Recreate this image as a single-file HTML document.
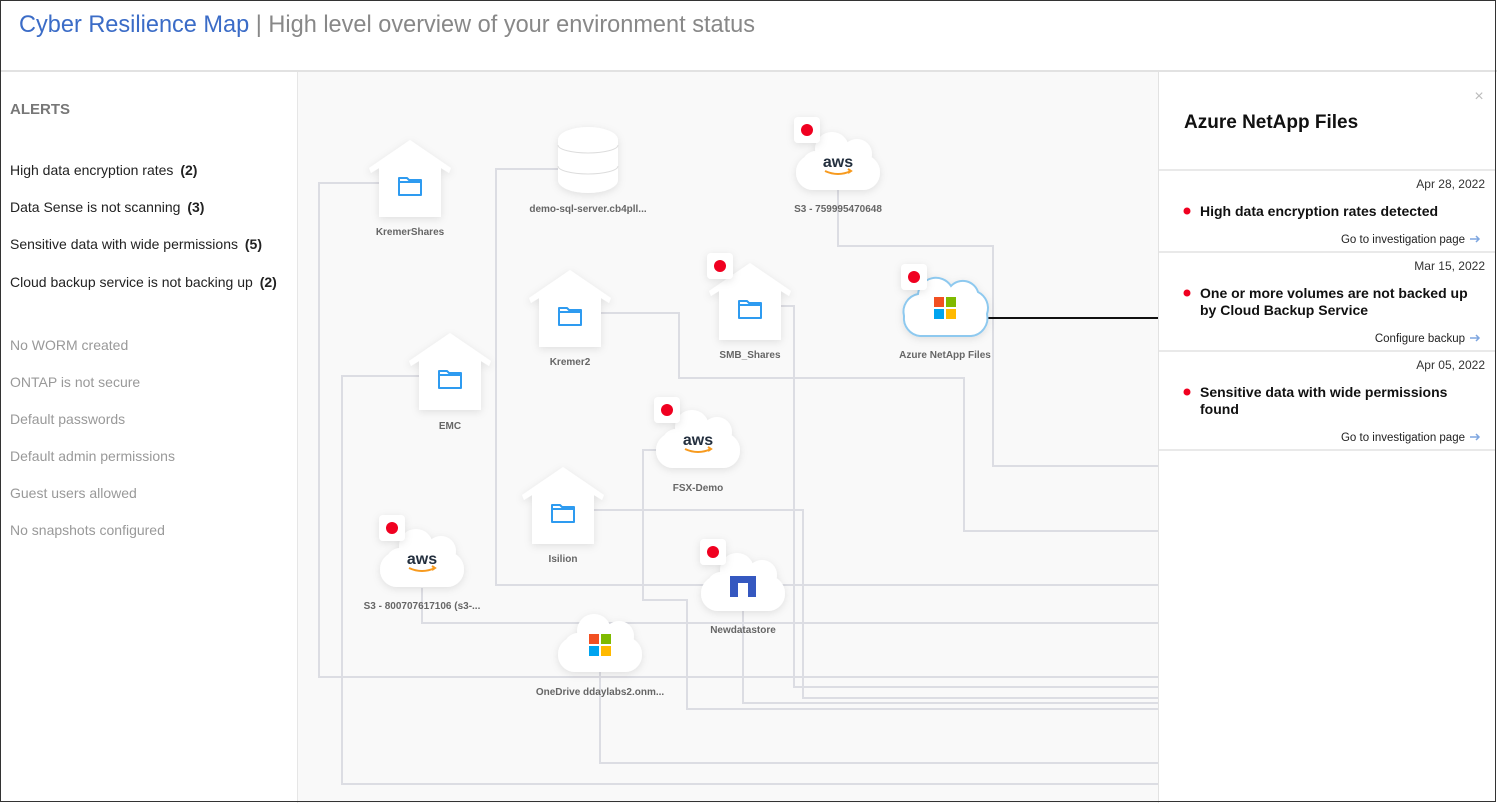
<!DOCTYPE html>
<html><head><meta charset="utf-8"><style>
html,body{margin:0;padding:0;background:#fff;}
svg{display:block;font-family:"Liberation Sans",sans-serif;}
</style></head><body>
<svg width="1497" height="803" viewBox="0 0 1497 803" xmlns="http://www.w3.org/2000/svg">
<defs>
<filter id="sh" x="-40%" y="-40%" width="180%" height="180%"><feDropShadow dx="0" dy="2" stdDeviation="4" flood-color="#000" flood-opacity="0.10"/></filter>
<g id="cloud"><circle cx="-22" cy="4" r="14"/><circle cx="-6" cy="-12" r="17"/><circle cx="19" cy="-7" r="15"/><rect x="-42" y="-6" width="84" height="35" rx="17"/></g>
<g id="house"><polygon points="0,0 41,28 39,33 31,28 31,77 -31,77 -31,28 -39,33 -41,28"/></g>
<g id="folder"><path d="M-11,-8 h8 l2,2 h12 v15 h-22 z M-11,-4 h22" fill="none" stroke="#2e9bf0" stroke-width="2" stroke-linejoin="round"/></g>
<g id="badge"><rect x="-13" y="-13" width="26" height="26" rx="4" fill="#fff" filter="url(#sh)"/><circle r="6" fill="#f00020"/></g>
<g id="aws"><text x="0" y="3" text-anchor="middle" font-size="16" fill="#232f3e" font-weight="bold">aws</text><path d="M-13,7 q13,6 26,0 M10,5 l3,2 -3,2" fill="none" stroke="#f79a1e" stroke-width="2"/></g>
<g id="ms"><rect x="-11" y="-11" width="10" height="10" fill="#f25022"/><rect x="1" y="-11" width="10" height="10" fill="#7fba00"/><rect x="-11" y="1" width="10" height="10" fill="#00a4ef"/><rect x="1" y="1" width="10" height="10" fill="#ffb900"/></g>
</defs>
<rect x="0" y="0" width="1497" height="803" fill="#fff"/>
<text x="19" y="32" font-size="24" fill="#3b6cc7" textLength="736" lengthAdjust="spacingAndGlyphs">Cyber Resilience Map <tspan fill="#888">| High level overview of your environment status</tspan></text>
<line x1="0" y1="71" x2="1497" y2="71" stroke="#e2e2e2" stroke-width="2"/>
<rect x="298" y="72" width="860" height="731" fill="#f9f9f9"/>
<line x1="297.5" y1="72" x2="297.5" y2="803" stroke="#e6e6e6"/>
<text x="10" y="114" font-size="15" font-weight="bold" fill="#777">ALERTS</text>
<g font-size="14" fill="#222">
<text x="10" y="175">High data encryption rates <tspan font-weight="bold" dx="3">(2)</tspan></text>
<text x="10" y="212">Data Sense is not scanning <tspan font-weight="bold" dx="3">(3)</tspan></text>
<text x="10" y="249">Sensitive data with wide permissions <tspan font-weight="bold" dx="3">(5)</tspan></text>
<text x="10" y="287">Cloud backup service is not backing up <tspan font-weight="bold" dx="3">(2)</tspan></text>
</g>
<g font-size="14" fill="#999">
<text x="10" y="350">No WORM created</text>
<text x="10" y="387">ONTAP is not secure</text>
<text x="10" y="424">Default passwords</text>
<text x="10" y="461">Default admin permissions</text>
<text x="10" y="498">Guest users allowed</text>
<text x="10" y="535">No snapshots configured</text>
</g>
<g fill="none" stroke="#dcdde3" stroke-width="2">
<polyline points="380,183 319,183 319,677 1158,677"/>
<polyline points="560,169 496,169 496,585 1158,585"/>
<polyline points="838,190 838,246 993,246 993,466 1158,466"/>
<polyline points="600,313 679,313 679,378 964,378 964,531 1158,531"/>
<polyline points="781,306 794,306 794,687 1158,687"/>
<polyline points="420,376 342,376 342,784 1158,784"/>
<polyline points="660,450 643,450 643,600 687,600 687,709 1158,709"/>
<polyline points="594,510 803,510 803,698 1158,698"/>
<polyline points="743,610 743,703 1158,703"/>
<polyline points="422,588 422,623 1158,623"/>
<polyline points="600,672 600,763 1158,763"/>
</g>
<line x1="988" y1="318" x2="1158" y2="318" stroke="#111" stroke-width="2"/>
<g fill="#fff" filter="url(#sh)">
<use href="#house" x="410" y="140"/><use href="#house" x="570" y="270"/><use href="#house" x="450" y="333"/><use href="#house" x="750" y="263"/><use href="#house" x="563" y="467"/>
</g>
<use href="#folder" x="410" y="186"/><use href="#folder" x="570" y="316"/><use href="#folder" x="450" y="379"/><use href="#folder" x="750" y="309"/><use href="#folder" x="563" y="513"/>
<g filter="url(#sh)"><path d="M558,140 a30,13 0 0 1 60,0 v40 a30,13 0 0 1 -60,0 z" fill="#fff"/></g>
<path d="M558,145 a30,8 0 0 0 60,0 M558,166 a30,8 0 0 0 60,0" fill="none" stroke="#ddd"/>
<g fill="#fff" filter="url(#sh)">
<use href="#cloud" x="838" y="161"/><use href="#cloud" x="698" y="439"/><use href="#cloud" x="422" y="558"/><use href="#cloud" x="743" y="582"/><use href="#cloud" x="600" y="643"/>
</g>
<g fill="#fff" stroke="#8ec9ef" stroke-width="2" filter="url(#sh)"><path d="M920,336 a18,18 0 0 1 -16,-20 a18,18 0 0 1 14,-22 a18,18 0 0 1 33,-8 a16,16 0 0 1 27,6 a18,18 0 0 1 9,22 a18,18 0 0 1 -16,22 z"/></g>
<use href="#aws" x="838" y="164"/><use href="#aws" x="698" y="442"/><use href="#aws" x="422" y="561"/>
<use href="#ms" x="945" y="308"/><use href="#ms" x="600" y="645"/>
<path d="M730,597 v-21 h26 v21 h-8 v-14 h-10 v14 z" fill="#3558c0"/>
<use href="#badge" x="807" y="130"/><use href="#badge" x="914" y="277"/><use href="#badge" x="667" y="410"/><use href="#badge" x="392" y="528"/><use href="#badge" x="713" y="552"/><use href="#badge" x="720" y="266"/>
<g font-size="10" font-weight="bold" fill="#666" text-anchor="middle">
<text x="410" y="235">KremerShares</text>
<text x="588" y="212">demo-sql-server.cb4pll...</text>
<text x="838" y="212">S3 - 759995470648</text>
<text x="570" y="365">Kremer2</text>
<text x="750" y="358">SMB_Shares</text>
<text x="945" y="358">Azure NetApp Files</text>
<text x="450" y="429">EMC</text>
<text x="698" y="491">FSX-Demo</text>
<text x="563" y="562">Isilion</text>
<text x="422" y="609">S3 - 800707617106 (s3-...</text>
<text x="743" y="633">Newdatastore</text>
<text x="600" y="695">OneDrive ddaylabs2.onm...</text>
</g>
<rect x="1158" y="72" width="337" height="731" fill="#fff"/>
<line x1="1158.5" y1="72" x2="1158.5" y2="803" stroke="#e2e2e2"/>
<text x="1479" y="101" font-size="16" fill="#bbb" text-anchor="middle">×</text>
<text x="1184" y="128" font-size="19" font-weight="bold" fill="#111">Azure NetApp Files</text>
<g stroke="#e2e2e2" stroke-width="1.5"><line x1="1158" y1="170" x2="1495" y2="170"/><line x1="1158" y1="252" x2="1495" y2="252"/><line x1="1158" y1="351" x2="1495" y2="351"/><line x1="1158" y1="450" x2="1495" y2="450"/></g>
<g font-size="12" fill="#333" text-anchor="end"><text x="1485" y="188">Apr 28, 2022</text><text x="1485" y="270">Mar 15, 2022</text><text x="1485" y="369">Apr 05, 2022</text></g>
<g fill="#f00020"><circle cx="1187" cy="211" r="3.5"/><circle cx="1187" cy="293" r="3.5"/><circle cx="1187" cy="392" r="3.5"/></g>
<g font-size="14" font-weight="bold" fill="#111">
<text x="1200" y="216">High data encryption rates detected</text>
<text x="1200" y="298">One or more volumes are not backed up</text>
<text x="1200" y="315">by Cloud Backup Service</text>
<text x="1200" y="397">Sensitive data with wide permissions</text>
<text x="1200" y="414">found</text>
</g>
<g font-size="11.5" fill="#222" text-anchor="end"><text x="1465" y="243">Go to investigation page</text><text x="1465" y="342">Configure backup</text><text x="1465" y="441">Go to investigation page</text></g>
<g fill="none" stroke="#7ea6e0" stroke-width="1.5"><path d="M1470,239 h9 m-3,-3 l3,3 -3,3"/><path d="M1470,338 h9 m-3,-3 l3,3 -3,3"/><path d="M1470,437 h9 m-3,-3 l3,3 -3,3"/></g>
<rect x="0.5" y="0.5" width="1495" height="801" fill="none" stroke="#333"/>
</svg>
</body></html>
